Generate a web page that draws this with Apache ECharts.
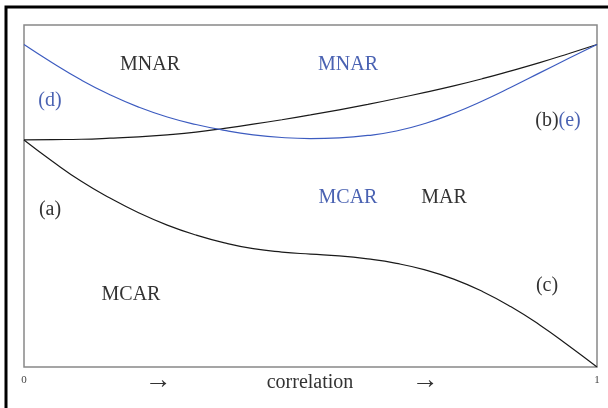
<!DOCTYPE html>
<html>
<head>
<meta charset="utf-8">
<script src="https://cdn.jsdelivr.net/npm/echarts@6/dist/echarts.min.js"></script>
<style>html,body{margin:0;padding:0;background:#fff;}#c{width:608px;height:408px;}</style>
</head>
<body>
<div id="c"></div>
<script>
var xs = [0,0.05,0.1,0.15,0.2,0.25,0.3,0.35,0.4,0.45,0.5,0.55,0.6,0.65,0.7,0.75,0.8,0.85,0.9,0.95,1];
var lowerCurve = [0.664,0.601,0.543,0.494,0.451,0.415,0.386,0.363,0.346,0.336,0.330,0.325,0.316,0.303,0.284,0.257,0.221,0.176,0.123,0.063,0];
var upperBlack = [0.664,0.665,0.666,0.669,0.673,0.679,0.687,0.698,0.710,0.723,0.737,0.752,0.768,0.785,0.803,0.822,0.843,0.866,0.890,0.916,0.943];
var upperBlue = [0.943,0.889,0.839,0.796,0.760,0.731,0.709,0.692,0.679,0.671,0.668,0.670,0.677,0.690,0.712,0.742,0.778,0.818,0.860,0.902,0.943];
var xTickLabels = ['0','1'];
var axisTitle = 'correlation';

function pairs(ys){ return xs.map(function(x,i){ return [x, ys[i]]; }); }

var BLUE_TXT = '#4a62b2', BLACK_TXT = '#333333';
var FONT = '"Liberation Serif", "DejaVu Serif", serif';

var chart = echarts.init(document.getElementById('c'), null, {renderer:'canvas'});
function txt(x, y, s, color, size){
  return {type:'text', x:x, y:y, style:{text:s, fill:color, font: (size||20)+'px ' + FONT, textAlign:'center', textVerticalAlign:'middle'}};
}
chart.setOption({
  animation:false,
  grid:{left:24, top:25, width:573, height:342, show:true, borderColor:'#888', borderWidth:1.5, backgroundColor:'transparent'},
  xAxis:{type:'value', min:0, max:1, interval:1,
    axisLine:{show:false}, axisTick:{show:false}, splitLine:{show:false},
    axisLabel:{color:'#444', fontSize:11, fontFamily:FONT, margin:8,
      formatter:function(v){ return v===0 ? xTickLabels[0] : (v===1 ? xTickLabels[1] : ''); }}},
  yAxis:{type:'value', min:0, max:1, show:false, splitLine:{show:false}},
  series:[
    {type:'line', data:pairs(lowerCurve), smooth:true, symbol:'none', lineStyle:{color:'#1a1a1a', width:1.2}},
    {type:'line', data:pairs(upperBlack), smooth:true, symbol:'none', lineStyle:{color:'#1a1a1a', width:1.2}},
    {type:'line', data:pairs(upperBlue), smooth:true, symbol:'none', lineStyle:{color:'#3d5cc0', width:1.2}}
  ],
  graphic:[
    {type:'polyline', shape:{points:[[6,408],[6,7],[608,7]]}, style:{stroke:'#000', lineWidth:3, fill:null}},
    txt(150, 65, 'MNAR', BLACK_TXT),
    txt(348, 65, 'MNAR', BLUE_TXT),
    txt(50, 101, '(d)', BLUE_TXT),
    {type:'text', x:558, y:121, style:{rich:{b:{fill:BLACK_TXT, font:'20px '+FONT}, e:{fill:BLUE_TXT, font:'20px '+FONT}}, text:'{b|(b)}{e|(e)}', textAlign:'center', textVerticalAlign:'middle'}},
    txt(50, 210, '(a)', BLACK_TXT),
    txt(348, 198, 'MCAR', BLUE_TXT),
    txt(444, 198, 'MAR', BLACK_TXT),
    txt(131, 295, 'MCAR', BLACK_TXT),
    txt(547, 286, '(c)', BLACK_TXT),
    txt(158, 381, '→', BLACK_TXT, 27),
    txt(310, 383, axisTitle, BLACK_TXT),
    txt(425, 381, '→', BLACK_TXT, 27)
  ]
});
</script>
</body>
</html>
